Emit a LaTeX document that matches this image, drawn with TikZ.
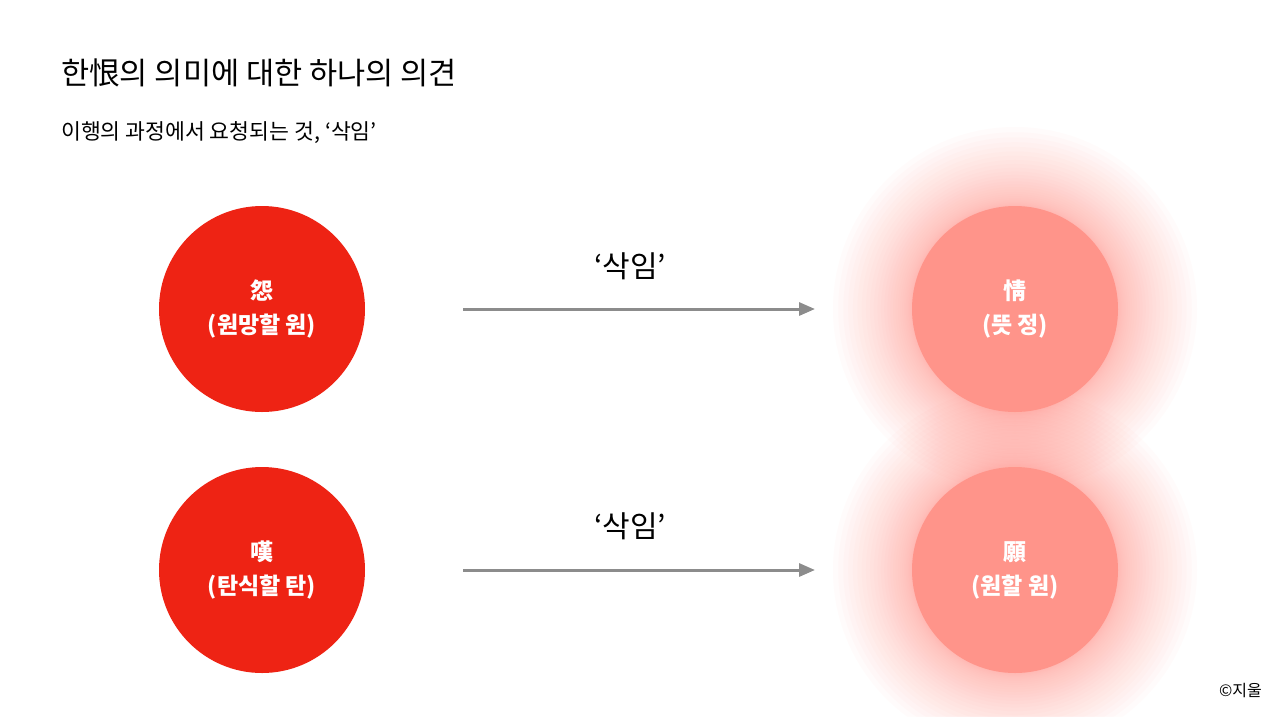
\documentclass[tikz,border=0pt]{standalone}
\usepackage{fontspec}
\setmainfont{Noto Sans CJK KR}
\usetikzlibrary{arrows.meta}
\definecolor{hanred}{HTML}{EE2314}
\definecolor{hanpink}{HTML}{FF948A}
\definecolor{arrowgray}{HTML}{8C8C8C}
\tikzset{
  circtext/.style={circle, minimum size=206pt, inner sep=0pt, text=white, font=\fontsize{23}{34}\selectfont\bfseries, align=center},
  redcirc/.style={circtext, fill=hanred},
  pinkcirc/.style={circtext, fill=hanpink},
  glowlayer/.style={fill=hanpink, fill opacity=0.03, draw=none},
  flow/.style={draw=arrowgray, line width=3pt, -{Triangle[length=16pt,width=13pt]}},
  flowlabel/.style={font=\fontsize{30}{34}\selectfont, text=black}
}
\begin{document}
\begin{tikzpicture}[x=1pt,y=-1pt]
\useasboundingbox (0,0) rectangle (1280,716);
\fill[white] (0,0) rectangle (1280,716);
\node[anchor=base west, inner sep=0pt, font=\fontsize{30.6}{36}\selectfont] (title) at (61,84) {한恨의 의미에 대한 하나의 의견};
\node[anchor=base west, inner sep=0pt, font=\fontsize{21.6}{26}\selectfont] (subtitle) at (61,139) {이행의 과정에서 요청되는 것, ‘삭임’};
% glows
\foreach \k in {30,29,...,0}{
  \pgfmathsetmacro\rr{102+80*(\k/30)^2}
  \fill[glowlayer] (1015,309) circle[radius=\rr];
  \fill[glowlayer] (1015,570) circle[radius=\rr];
}
\node[redcirc] (won) at (262,309) {怨\\(원망할 원)};
\node[redcirc] (tan) at (262,570) {嘆\\(탄식할 탄)};
\node[pinkcirc] (jeong) at (1015,309) {情\\(뜻 정)};
\node[pinkcirc] (won2) at (1015,570) {願\\(원할 원)};
\coordinate (a1s) at (463,309);
\coordinate (a1e) at (815,309);
\coordinate (a2s) at (463,570);
\coordinate (a2e) at (815,570);
\draw[flow] (a1s) -- (a1e);
\draw[flow] (a2s) -- (a2e);
\node[flowlabel] (l1) at (630,266) {‘삭임’};
\node[flowlabel] (l2) at (630,526) {‘삭임’};
\node[anchor=east, inner sep=0pt, font=\fontsize{16}{18}\selectfont] (copy) at (1262,690) {©지울};
\end{tikzpicture}
\end{document}
